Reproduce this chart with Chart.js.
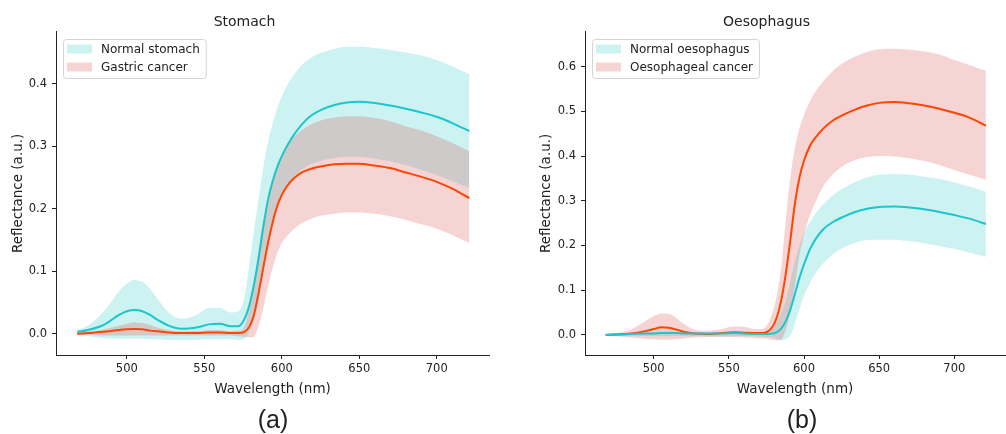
<!DOCTYPE html>
<html lang="en">
<head>
<meta charset="UTF-8">
<title>Reflectance spectra - stomach and oesophagus</title>
<script src="https://cdn.jsdelivr.net/npm/chart.js"></script>
<style>
  html, body { margin: 0; padding: 0; background: #fff; }
  .wrap { position: relative; width: 1006px; height: 434px; overflow: hidden; }
  canvas { position: absolute; top: 0; }
  #chartA { left: 0; }
  #chartB { left: 528px; }
  .tag {
    position: absolute; top: 405px; width: 80px; text-align: center;
    font: 25px "Liberation Sans", Arial, sans-serif; color: #222; line-height: 29px;
  }
</style>
</head>
<body>
<div class="wrap">
  <canvas id="chartA" width="500" height="434"></canvas>
  <canvas id="chartB" width="478" height="434"></canvas>
  <div class="tag" style="left:233px">(a)</div>
  <div class="tag" style="left:762px">(b)</div>
</div>

<script>
  // wavelength grid (nm)
  const wavelengths = [468, 475, 485, 495, 500, 505, 510, 515, 520, 527, 535, 545, 553, 560, 567, 572, 576, 579, 582, 585,
                       588, 591, 594, 597, 600, 604, 608, 613, 619, 626, 634, 642, 650, 660, 670, 680, 690, 700, 710, 721];
  const xTicks = [500, 550, 600, 650, 700];
  const stomachTicks = [0, 0.1, 0.2, 0.3, 0.4];
  const oesoTicks = [0, 0.1, 0.2, 0.3, 0.4, 0.5, 0.6];
  const stomachLabels = ['Normal stomach', 'Gastric cancer'];
  const oesoLabels = ['Normal oesophagus', 'Oesophageal cancer'];

  // Stomach
  const stomachNormalMean = [0.003,0.006,0.014,0.030,0.036,0.038,0.036,0.030,0.022,0.013,0.008,0.010,0.015,0.016,0.012,0.012,0.024,0.045,0.078,0.120,
                             0.170,0.213,0.243,0.266,0.284,0.303,0.319,0.335,0.349,0.359,0.366,0.370,0.371,0.369,0.365,0.360,0.354,0.347,0.337,0.324];
  const stomachNormalUpper = [0.006,0.013,0.035,0.068,0.080,0.086,0.083,0.072,0.055,0.034,0.024,0.030,0.041,0.041,0.034,0.036,0.060,0.110,0.165,0.215,
                              0.266,0.305,0.336,0.360,0.380,0.400,0.415,0.430,0.442,0.450,0.456,0.459,0.459,0.457,0.454,0.450,0.445,0.438,0.428,0.415];
  const stomachNormalLower = [-0.001,-0.004,-0.007,-0.008,-0.008,-0.008,-0.008,-0.009,-0.009,-0.010,-0.010,-0.010,-0.009,-0.009,-0.009,-0.010,-0.008,0.004,0.020,0.055,
                              0.100,0.143,0.177,0.203,0.222,0.238,0.251,0.263,0.271,0.277,0.281,0.283,0.283,0.280,0.276,0.270,0.262,0.254,0.244,0.233];
  const stomachCancerMean = [0.000,0.001,0.003,0.006,0.007,0.0075,0.007,0.005,0.004,0.002,0.001,0.001,0.002,0.002,0.001,0.001,0.003,0.011,0.030,0.065,
                             0.105,0.144,0.177,0.204,0.222,0.238,0.249,0.258,0.264,0.268,0.271,0.272,0.272,0.269,0.265,0.258,0.251,0.243,0.232,0.217];
  const stomachCancerUpper = [0.002,0.003,0.007,0.013,0.016,0.018,0.017,0.014,0.010,0.006,0.004,0.004,0.006,0.006,0.004,0.005,0.012,0.040,0.085,0.135,
                              0.180,0.218,0.248,0.270,0.287,0.302,0.315,0.326,0.335,0.342,0.346,0.348,0.348,0.345,0.340,0.332,0.325,0.316,0.305,0.292];
  const stomachCancerLower = [-0.002,-0.002,-0.003,-0.003,-0.003,-0.003,-0.003,-0.003,-0.003,-0.003,-0.003,-0.003,-0.003,-0.003,-0.003,-0.004,-0.005,-0.006,-0.005,0.012,
                              0.040,0.074,0.104,0.128,0.145,0.158,0.168,0.177,0.184,0.189,0.192,0.194,0.194,0.192,0.188,0.182,0.175,0.168,0.158,0.145];

  // Oesophagus
  const oesoNormalMean = [0.000,0.001,0.002,0.003,0.003,0.004,0.004,0.004,0.003,0.003,0.003,0.003,0.004,0.003,0.002,0.002,0.002,0.003,0.006,0.015,
                          0.032,0.058,0.092,0.128,0.158,0.192,0.216,0.237,0.252,0.264,0.275,0.282,0.286,0.287,0.285,0.281,0.275,0.268,0.260,0.248];
  const oesoNormalUpper = [0.001,0.003,0.005,0.006,0.007,0.008,0.008,0.007,0.006,0.006,0.006,0.006,0.007,0.006,0.005,0.005,0.008,0.014,0.030,0.050,
                           0.080,0.122,0.165,0.200,0.227,0.253,0.273,0.293,0.312,0.328,0.342,0.352,0.358,0.360,0.358,0.354,0.349,0.341,0.332,0.320];
  const oesoNormalLower = [-0.001,-0.002,-0.003,-0.003,-0.003,-0.003,-0.003,-0.003,-0.003,-0.003,-0.003,-0.003,-0.003,-0.003,-0.003,-0.004,-0.005,-0.006,-0.010,-0.012,
                           -0.010,0.000,0.025,0.058,0.087,0.116,0.140,0.161,0.180,0.195,0.206,0.212,0.213,0.213,0.210,0.205,0.199,0.192,0.184,0.175];
  const oesoCancerMean = [0.000,0.001,0.003,0.009,0.013,0.017,0.016,0.012,0.007,0.003,0.002,0.004,0.006,0.005,0.004,0.004,0.008,0.018,0.040,0.080,
                          0.140,0.215,0.295,0.352,0.390,0.423,0.443,0.462,0.479,0.492,0.504,0.513,0.519,0.521,0.518,0.513,0.506,0.497,0.486,0.468];
  const oesoCancerUpper = [0.002,0.004,0.012,0.032,0.042,0.048,0.047,0.038,0.025,0.012,0.009,0.013,0.019,0.018,0.013,0.013,0.025,0.050,0.090,0.155,
                           0.262,0.355,0.420,0.462,0.492,0.523,0.546,0.568,0.590,0.608,0.623,0.633,0.639,0.640,0.638,0.634,0.627,0.615,0.604,0.591];
  const oesoCancerLower = [-0.002,-0.003,-0.006,-0.009,-0.010,-0.011,-0.011,-0.010,-0.008,-0.006,-0.005,-0.005,-0.005,-0.006,-0.007,-0.008,-0.009,-0.011,-0.012,-0.010,
                           0.012,0.050,0.108,0.178,0.224,0.268,0.300,0.333,0.359,0.378,0.391,0.398,0.400,0.399,0.395,0.389,0.380,0.369,0.358,0.347];

  const CYAN = '#1cc6cb';
  const RED = '#ff4500';
  const CYAN_BAND = 'rgba(0,191,191,0.2)';
  const RED_BAND = 'rgba(214,39,40,0.2)';
  const FONT = 'DejaVu Sans';
  const INK = '#222';

  // matplotlib style legend box inside the plot
  const boxLegend = {
    id: 'boxLegend',
    afterDraw(chart, args, opts) {
      const { ctx, chartArea } = chart;
      ctx.save();
      ctx.font = '12px "' + FONT + '"';
      const textW = Math.max(...opts.items.map(it => ctx.measureText(it.text).width));
      const x = Math.round(chartArea.left) + 7, y = Math.round(chartArea.top) + 7;
      const w = 4 + 25 + 9 + textW + 6, h = 39;
      ctx.fillStyle = 'rgba(255,255,255,0.8)';
      ctx.strokeStyle = '#d4d4d4';
      ctx.lineWidth = 1;
      ctx.beginPath();
      ctx.roundRect(x + 0.5, y + 0.5, w, h, 3);
      ctx.fill();
      ctx.stroke();
      opts.items.forEach((it, i) => {
        const cy = y + 10 + i * 18;
        ctx.fillStyle = it.color;
        ctx.fillRect(x + 4, cy - 4.5, 25, 9);
        ctx.fillStyle = INK;
        ctx.textBaseline = 'middle';
        ctx.fillText(it.text, x + 38, cy + 1);
      });
      ctx.restore();
    }
  };

  function makeChart(id, opt) {
    const pts = arr => wavelengths.map((x, i) => ({ x, y: arr[i] }));
    const band = (arr, color, fill) => ({
      data: pts(arr), fill: fill, backgroundColor: color, borderColor: 'rgba(0,0,0,0)',
      borderWidth: 0, pointRadius: 0, cubicInterpolationMode: 'monotone'
    });
    const line = (arr, color) => ({
      data: pts(arr), fill: false, borderColor: color, borderWidth: 2,
      pointRadius: 0, cubicInterpolationMode: 'monotone'
    });

    // fills are painted from the last dataset to the first, so the cancer band goes on top
    new Chart(document.getElementById(id), {
      type: 'line',
      data: {
        datasets: [
          line(opt.nMean, CYAN),
          line(opt.cMean, RED),
          band(opt.cUp, RED_BAND, '+1'),
          band(opt.cLo, 'rgba(0,0,0,0)', false),
          band(opt.nUp, CYAN_BAND, '+1'),
          band(opt.nLo, 'rgba(0,0,0,0)', false)
        ]
      },
      options: {
        responsive: false,
        animation: false,
        layout: { padding: { left: 0, right: opt.padRight, top: 0, bottom: 34 } },
        plugins: {
          legend: { display: false },
          tooltip: { enabled: false },
          title: {
            display: true, text: opt.title, color: INK,
            font: { family: FONT, size: 14, weight: 'normal' },
            padding: { top: 14, bottom: 1 }
          },
          boxLegend: {
            items: [
              { text: opt.labels[0], color: CYAN_BAND },
              { text: opt.labels[1], color: RED_BAND }
            ]
          }
        },
        scales: {
          x: {
            type: 'linear', min: 454.3, max: 733.7,
            afterBuildTicks: s => { s.ticks = xTicks.map(v => ({ value: v })); },
            afterFit: s => { s.height = 45; },
            grid: { display: true, drawOnChartArea: false, drawTicks: true, tickLength: 4, color: INK },
            border: { display: true, color: INK, width: 1 },
            ticks: { color: INK, font: { family: FONT, size: 11.5 }, padding: 3, maxRotation: 0, callback: v => v },
            title: { display: true, text: 'Wavelength (nm)', color: INK, font: { family: FONT, size: 13.5 }, padding: { top: 0, bottom: 2 } }
          },
          y: {
            min: opt.yMin, max: opt.yMax,
            afterBuildTicks: s => { s.ticks = opt.yTicks.map(v => ({ value: v })); },
            afterFit: s => { s.width = opt.yWidth; },
            grid: { display: true, drawOnChartArea: false, drawTicks: true, tickLength: 4, color: INK },
            border: { display: true, color: INK, width: 1 },
            ticks: { color: INK, font: { family: FONT, size: 11.5 }, padding: 5, callback: v => v.toFixed(1) },
            title: { display: true, text: 'Reflectance (a.u.)', color: INK, font: { family: FONT, size: 13.5 }, padding: { top: 10, bottom: 0 } }
          }
        }
      },
      plugins: [boxLegend]
    });
  }

  makeChart('chartA', {
    title: 'Stomach', labels: stomachLabels, yTicks: stomachTicks,
    yMin: -0.034, yMax: 0.483, yWidth: 56, padRight: 11,
    nMean: stomachNormalMean, nUp: stomachNormalUpper, nLo: stomachNormalLower,
    cMean: stomachCancerMean, cUp: stomachCancerUpper, cLo: stomachCancerLower
  });

  makeChart('chartB', {
    title: 'Oesophagus', labels: oesoLabels, yTicks: oesoTicks,
    yMin: -0.045, yMax: 0.678, yWidth: 57, padRight: 1,
    nMean: oesoNormalMean, nUp: oesoNormalUpper, nLo: oesoNormalLower,
    cMean: oesoCancerMean, cUp: oesoCancerUpper, cLo: oesoCancerLower
  });
</script>
</body>
</html>
